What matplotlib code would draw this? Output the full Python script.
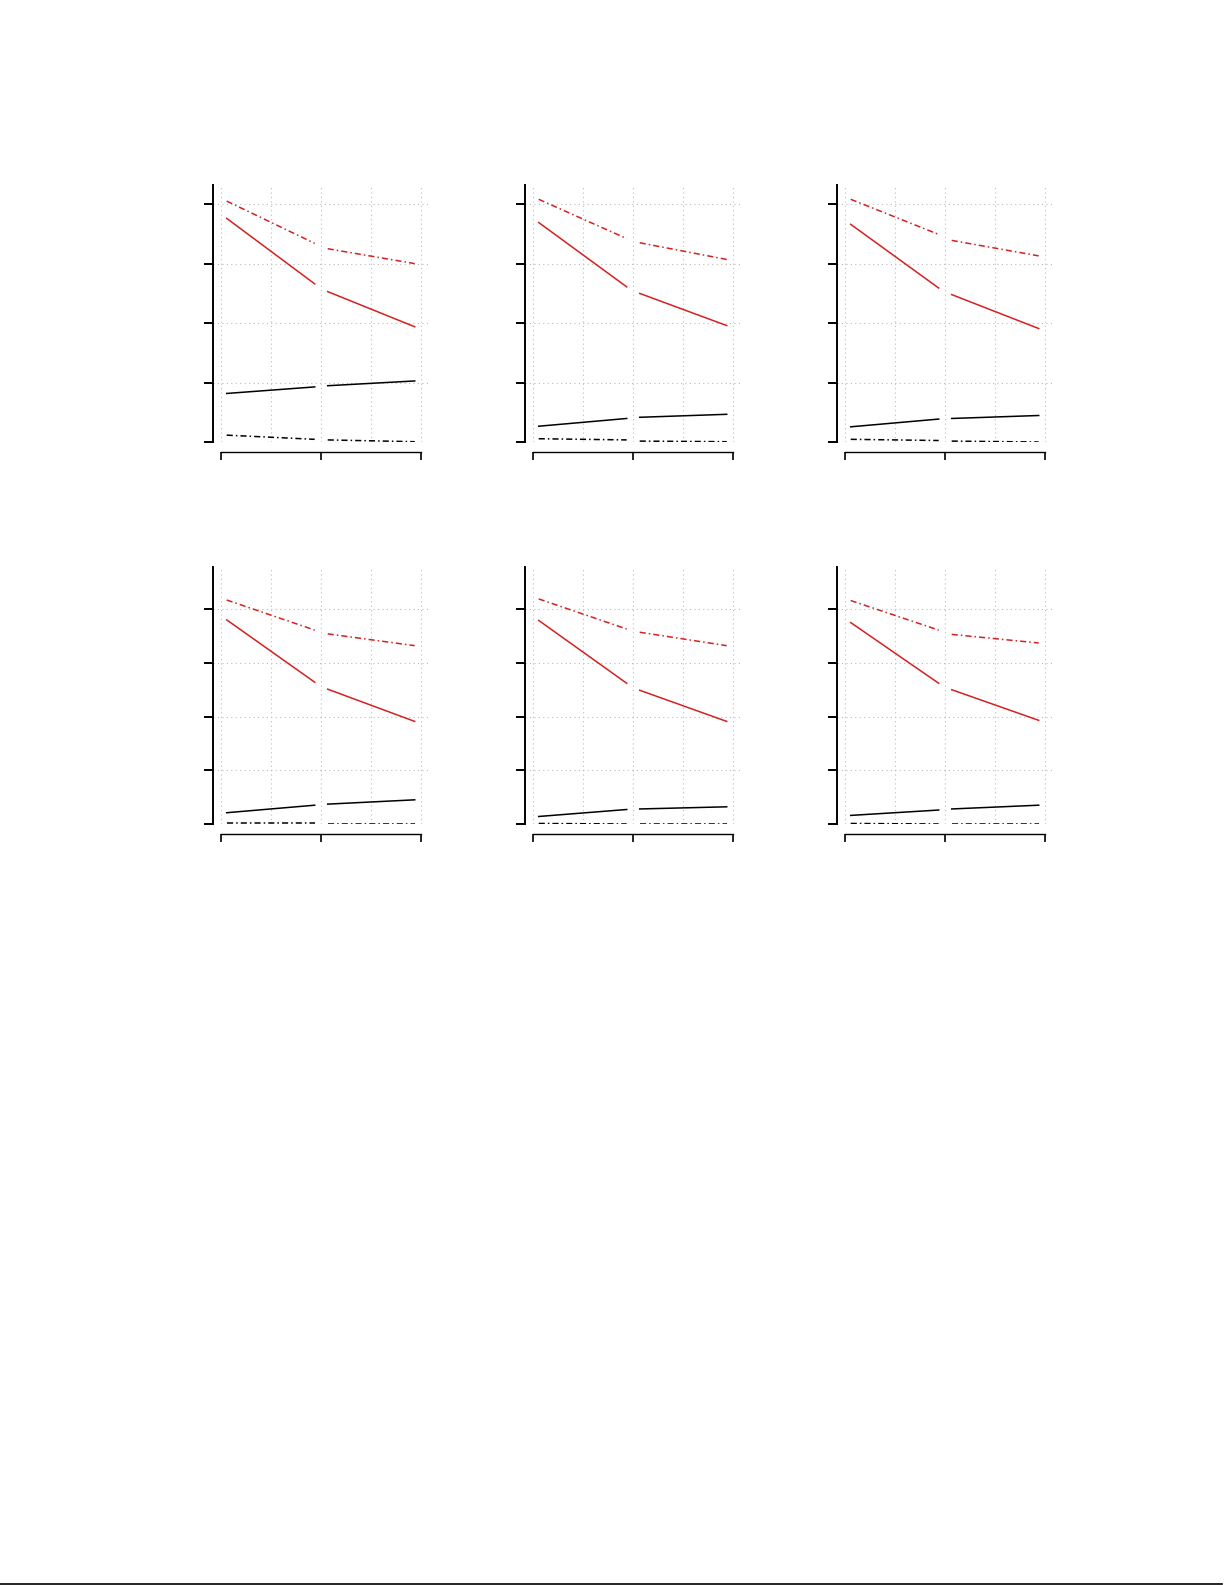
import matplotlib
matplotlib.use("Agg")
import matplotlib.pyplot as plt
from matplotlib.lines import Line2D

# x positions of the two line pieces in each panel
x_first = [0.06, 0.94]
x_second = [1.07, 1.94]

# values per panel: [start, end of first piece, start, end of second piece]
red_dashdot = [
    [4.05, 3.34, 3.25, 3.00],
    [4.08, 3.42, 3.35, 3.07],
    [4.08, 3.49, 3.39, 3.13],
    [4.17, 3.61, 3.54, 3.32],
    [4.19, 3.63, 3.57, 3.32],
    [4.16, 3.61, 3.53, 3.37],
]
red_solid = [
    [3.76, 2.66, 2.53, 1.94],
    [3.69, 2.61, 2.50, 1.96],
    [3.66, 2.59, 2.48, 1.91],
    [3.80, 2.64, 2.51, 1.91],
    [3.79, 2.62, 2.49, 1.91],
    [3.75, 2.62, 2.50, 1.93],
]
black_solid = [
    [0.82, 0.93, 0.95, 1.03],
    [0.27, 0.40, 0.42, 0.47],
    [0.26, 0.39, 0.40, 0.45],
    [0.21, 0.35, 0.37, 0.45],
    [0.14, 0.27, 0.28, 0.32],
    [0.16, 0.26, 0.28, 0.35],
]
black_dashdot = [
    [0.12, 0.05, 0.04, 0.01],
    [0.06, 0.04, 0.02, 0.01],
    [0.05, 0.03, 0.02, 0.005],
    [0.01, 0.01, 0.00, 0.00],
    [0.01, 0.00, 0.00, 0.00],
    [0.01, 0.00, 0.00, 0.00],
]
y_top = [4.32, 4.32, 4.32, 4.79, 4.79, 4.79]

RED = "#d42020"
DASHDOT = (0, (4, 2, 1, 2))

W, H = 1225, 1585
fig = plt.figure(figsize=(W / 100, H / 100), dpi=100)

lefts = [213, 525, 837]
bottoms = [442.3, 824]
aw, ah = 215, 257.3

for i in range(6):
    row, col = divmod(i, 3)
    ax = fig.add_axes([lefts[col] / W, 1 - bottoms[row] / H, aw / W, ah / H])

    series = [
        (red_dashdot[i], RED, DASHDOT),
        (red_solid[i], RED, "-"),
        (black_solid[i], "black", "-"),
        (black_dashdot[i], "black", DASHDOT),
    ]
    for vals, c, ls in series:
        ax.plot(x_first, vals[:2], color=c, ls=ls, lw=1.1)
        ax.plot(x_second, vals[2:], color=c, ls=ls, lw=1.1)

    ax.set_xlim(-0.077, 2.073)
    ax.set_ylim(0, y_top[i])
    ax.set_xticks([0, 1, 2])
    ax.set_xticks([0.5, 1.5], minor=True)
    ax.set_yticks([0, 1, 2, 3, 4])
    ax.set_xticklabels([])
    ax.set_yticklabels([])

    ax.grid(True, which="both", axis="x", color="#bbbbbb", lw=0.8, ls=(0, (1, 3)))
    ax.grid(True, which="major", axis="y", color="#bbbbbb", lw=0.8, ls=(0, (1, 3)))
    ax.set_axisbelow(True)

    for s in ["top", "right"]:
        ax.spines[s].set_visible(False)
    ax.spines["left"].set_linewidth(1.4)
    ax.spines["bottom"].set_linewidth(1.0)
    ax.spines["bottom"].set_position(("outward", 7))
    ax.spines["bottom"].set_bounds(0, 2)

    ax.tick_params(axis="y", direction="out", length=6.3, width=1.4)
    ax.tick_params(axis="x", which="major", direction="out", length=6, width=1.2)
    ax.tick_params(axis="x", which="minor", length=0)

# page border line at the bottom
fig.add_artist(Line2D([0, 1222 / W], [1 - 1583.5 / H, 1 - 1583.5 / H],
                      transform=fig.transFigure, color="black", lw=1.2))

fig.savefig("out.png", dpi=100)
